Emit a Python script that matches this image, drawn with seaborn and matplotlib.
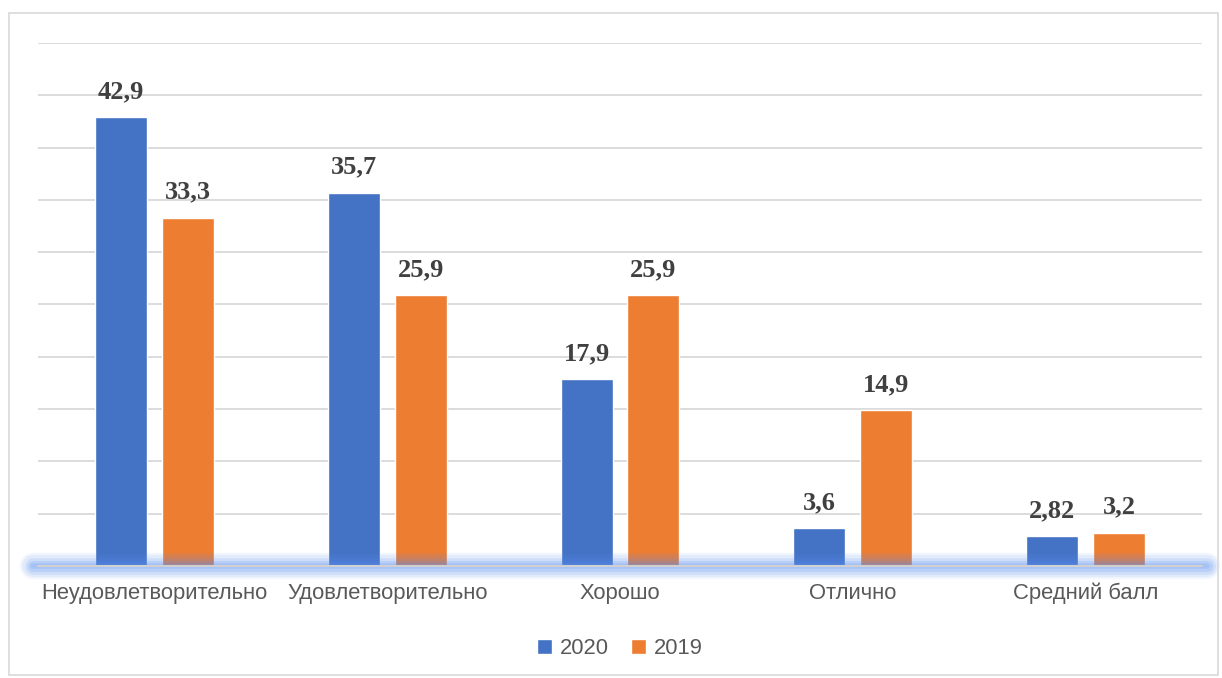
import pandas as pd
import seaborn as sns
import matplotlib.pyplot as plt
from matplotlib.patches import Rectangle

# data
categories = ["Неудовлетворительно", "Удовлетворительно", "Хорошо", "Отлично", "Средний балл"]
values_2020 = [42.9, 35.7, 17.9, 3.6, 2.82]
values_2019 = [33.3, 25.9, 25.9, 14.9, 3.2]
labels_2020 = ["42,9", "35,7", "17,9", "3,6", "2,82"]
labels_2019 = ["33,3", "25,9", "25,9", "14,9", "3,2"]
years = ["2020", "2019"]

df = pd.DataFrame({
    "cat": categories * 2,
    "value": values_2020 + values_2019,
    "year": [years[0]] * 5 + [years[1]] * 5,
})

sns.set_style("white")
plt.rcParams["font.family"] = ["Liberation Sans", "DejaVu Sans"]

fig = plt.figure(figsize=(12.22, 6.78), dpi=100)
ax = fig.add_axes([0.0311, 0.1652, 0.9525, 0.7714])

sns.barplot(data=df, x="cat", y="value", hue="year", hue_order=years,
            palette=["#4472C4", "#ED7D31"], width=0.574, gap=0.22,
            saturation=1, ax=ax, zorder=3)

# value labels
for cont, labs in zip(ax.containers, [labels_2020, labels_2019]):
    ax.bar_label(cont, labels=labs, padding=10, fontsize=19, fontweight="bold",
                 color="#404040", family="Liberation Serif")

ax.set_ylim(0, 50)
ax.set_yticks(range(0, 51, 5))
ax.yaxis.grid(True, color="#d9d9d9", linewidth=1.3)
ax.set_axisbelow(True)
ax.tick_params(axis="y", length=0, labelleft=False)
ax.tick_params(axis="x", length=0, labelsize=15.8, labelcolor="#595959", pad=12)
ax.set_xlabel("")
ax.set_ylabel("")
for s in ax.spines.values():
    s.set_visible(False)

# glowing baseline
for lw, a in [(19, 0.08), (16, 0.1), (12, 0.14), (8, 0.18), (4, 0.2)]:
    ax.axhline(0, xmin=-0.004, xmax=1.004, color="#5b8ff2", linewidth=lw, alpha=a,
               solid_capstyle="round", clip_on=False, zorder=4)
ax.axhline(0, color="#d0d0d0", linewidth=1.5, zorder=5, clip_on=False)

leg = ax.legend(loc="center", bbox_to_anchor=(0.5, -0.158), ncol=2, frameon=False,
                fontsize=15.8, handlelength=0.7, handleheight=0.7,
                handletextpad=0.35, columnspacing=1.0)
for t in leg.get_texts():
    t.set_color("#595959")

# outer chart frame
fig.patches.append(Rectangle((9 / 1222, 3 / 678), 1209 / 1222, 662 / 678,
                             transform=fig.transFigure, fill=False,
                             edgecolor="#d9d9d9", linewidth=1.2))

fig.savefig("out.png", dpi=100)
